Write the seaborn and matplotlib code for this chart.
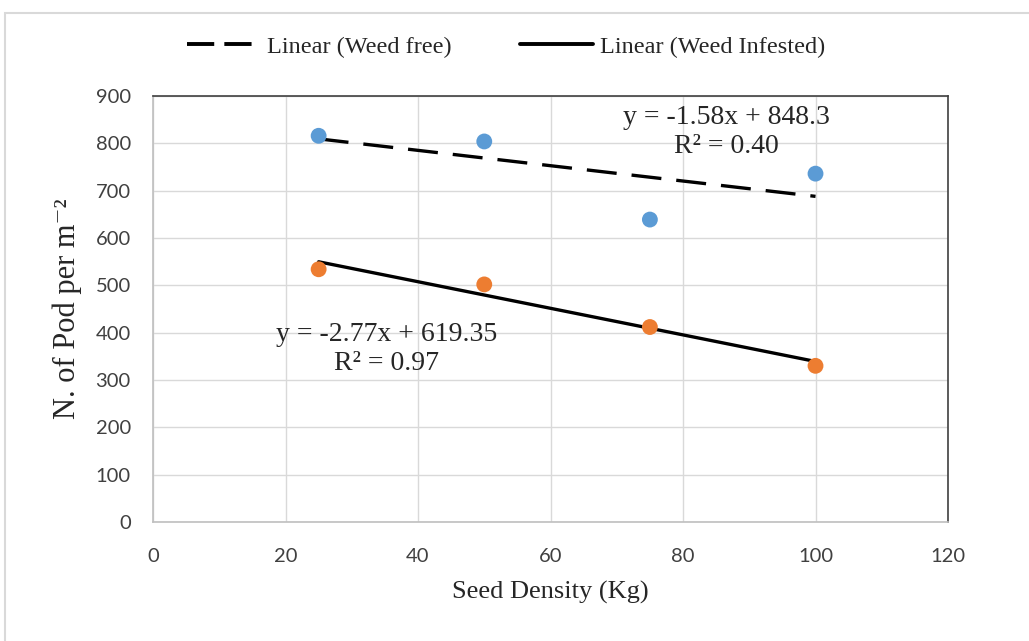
import numpy as np
import pandas as pd
import seaborn as sns
import matplotlib.pyplot as plt
from matplotlib.lines import Line2D
from matplotlib.patches import Rectangle

# Datos
densidad = [25, 50, 75, 100]
weed_free = [816, 804, 639, 736]
weed_infested = [534, 502, 412, 330]
eq_free = "y = -1.58x + 848.3\nR² = 0.40"
eq_infested = "y = -2.77x + 619.35\nR² = 0.97"
x_ticks = [0, 20, 40, 60, 80, 100, 120]
y_ticks = [0, 100, 200, 300, 400, 500, 600, 700, 800, 900]

df = pd.DataFrame({"densidad": densidad, "free": weed_free, "infested": weed_infested})

sns.set_style("white")
serif = ["Liberation Serif", "DejaVu Serif"]
tickfont = ["Lato", "DejaVu Sans"]

fig = plt.figure(figsize=(10.29, 6.41), dpi=100)
ax = fig.add_axes([0.1487, 0.1856, 0.7726, 0.6646])

# Marco exterior gris
fig.patches.append(Rectangle((0.005, -0.01), 1.0, 0.99, transform=fig.transFigure,
                             fill=False, edgecolor="#d9d9d9", linewidth=1.5))

# Lineas de tendencia
sns.regplot(data=df, x="densidad", y="free", ax=ax, ci=None, scatter=False,
            line_kws={"color": "black", "linestyle": (0, (9, 4.5)), "linewidth": 2.4})
sns.regplot(data=df, x="densidad", y="infested", ax=ax, ci=None, scatter=False,
            line_kws={"color": "black", "linewidth": 2.4})

# Puntos
sns.scatterplot(data=df, x="densidad", y="free", ax=ax, color="#5b9bd5", s=130,
                edgecolor="none", zorder=3)
sns.scatterplot(data=df, x="densidad", y="infested", ax=ax, color="#ed7d31", s=130,
                edgecolor="none", zorder=3)

ax.set_xlim(0, 120)
ax.set_ylim(0, 900)
ax.set_xticks(x_ticks)
ax.set_yticks(y_ticks)
ax.grid(True, color="#d9d9d9", linewidth=1)
ax.set_axisbelow(True)
ax.tick_params(axis="y", length=0, pad=16)
ax.tick_params(axis="x", length=0, pad=19)
for lab in ax.get_xticklabels() + ax.get_yticklabels():
    lab.set_family(tickfont)
    lab.set_fontsize(14.5)
    lab.set_color("#404040")

for side in ["left", "bottom"]:
    ax.spines[side].set_color("#bfbfbf")
    ax.spines[side].set_linewidth(1.2)
for side in ["top", "right"]:
    ax.spines[side].set_color("#404040")
    ax.spines[side].set_linewidth(1.2)

ax.set_xlabel("Seed Density (Kg)", family=serif, fontsize=19, labelpad=11)
ax.set_ylabel("N. of Pod per m⁻²", family=serif, fontsize=22, labelpad=10)

# Ecuaciones
ax.text(86.5, 824, eq_free, family=serif, fontsize=20, ha="center", va="center",
        linespacing=1.2)
ax.text(35.3, 365, eq_infested, family=serif, fontsize=20, ha="center", va="center",
        linespacing=1.2)

# Leyenda
handles = [Line2D([], [], color="black", linestyle=(0, (7, 2.6)), linewidth=2.8),
           Line2D([], [], color="black", linewidth=2.8)]
fig.legend(handles, ["Linear (Weed free)", "Linear (Weed Infested)"],
           loc="center", bbox_to_anchor=(0.492, 0.927), ncol=2, frameon=False,
           prop={"family": serif, "size": 17.5}, handlelength=3.0, handletextpad=0.3,
           columnspacing=2.8)

plt.savefig("out.png", dpi=100)
